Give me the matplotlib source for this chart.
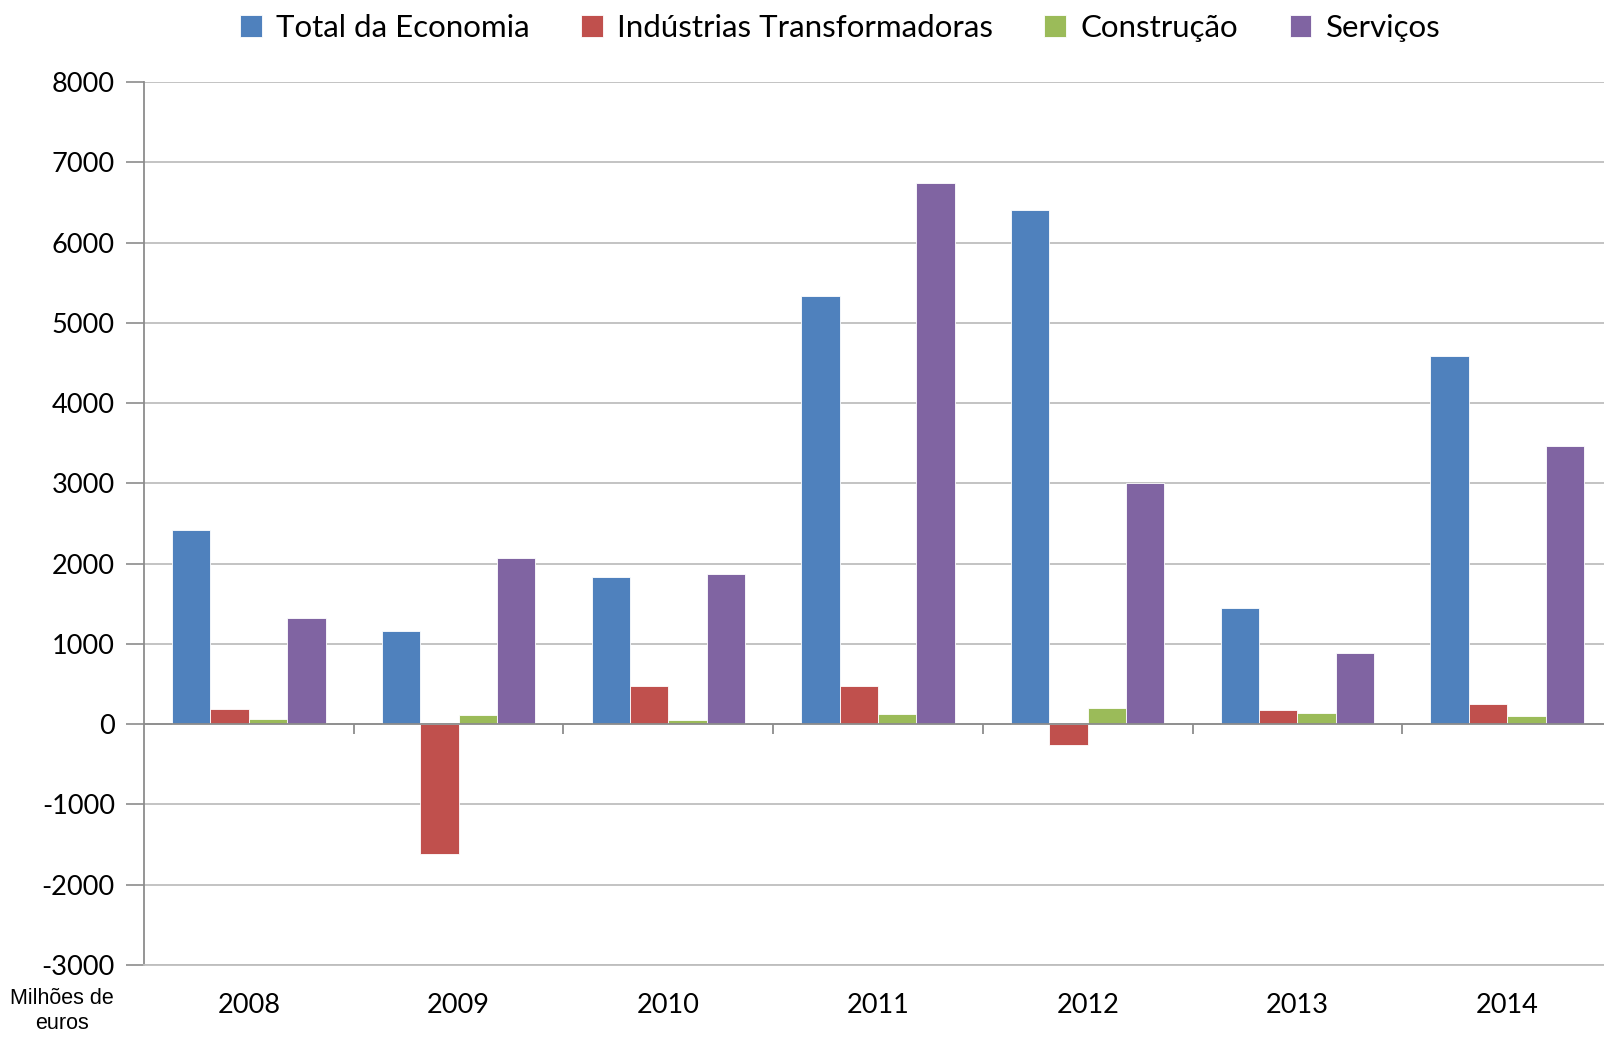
import matplotlib
matplotlib.use("Agg")
import matplotlib.pyplot as plt
import numpy as np

years = ["2008", "2009", "2010", "2011", "2012", "2013", "2014"]
series_names = ["Total da Economia", "Indústrias Transformadoras", "Construção", "Serviços"]
total = [2420, 1160, 1830, 5340, 6410, 1450, 4590]
industria = [190, -1620, 470, 470, -255, 180, 255]
construcao = [65, 115, 50, 125, 205, 140, 100]
servicos = [1325, 2065, 1875, 6740, 3005, 890, 3465]
yticks = list(range(-3000, 8001, 1000))

colors = ["#4F81BD", "#C0504D", "#9BBB59", "#8064A2"]
font = ["Lato", "DejaVu Sans"]

fig = plt.figure(figsize=(16.04, 10.38), dpi=100)
ax = fig.add_axes([144/1604, (1038-965)/1038, 1468/1604, (965-82)/1038])

x = np.arange(len(years))
bw = 0.183
data = [total, industria, construcao, servicos]
for i, (vals, c, name) in enumerate(zip(data, colors, series_names)):
    ax.bar(x + (i - 1.5) * bw, vals, width=bw, color=c, label=name,
           edgecolor="white", linewidth=0.6, zorder=3)

ax.set_xlim(-0.5, len(years) - 0.5)
ax.set_ylim(-3000, 8000)
ax.set_yticks(yticks)
ax.set_yticklabels([str(v) for v in yticks], fontsize=19.5, family=font)
ax.yaxis.grid(True, color="#BEBEBE", linewidth=1.3, zorder=0)
ax.set_axisbelow(True)

ax.set_xticks(x)
ax.set_xticklabels(years, fontsize=19.5, family=font)
ax.tick_params(axis="x", length=0, pad=20)
ax.tick_params(axis="y", length=13, width=1.2, color="#8C8C8C", pad=8)

for s in ["top", "right"]:
    ax.spines[s].set_visible(False)
ax.spines["left"].set_color("#8C8C8C")
ax.spines["left"].set_linewidth(1.3)
ax.spines["bottom"].set_color("#BEBEBE")
ax.spines["bottom"].set_linewidth(1.3)

# zero axis with category boundary ticks
ax.axhline(0, color="#8C8C8C", linewidth=1.3, zorder=4)
ax.vlines(np.arange(0.5, len(years) - 0.5, 1.0), -125, 0, color="#8C8C8C", linewidth=1.3, zorder=4)

fig.text(62/1604, 4/1038, "Milhões de\neuros", ha="center", va="bottom",
         fontsize=15.5, family=["Liberation Sans", "DejaVu Sans"], linespacing=1.25)

leg = fig.legend(loc="center", bbox_to_anchor=(840/1604, 1 - 28/1038), ncol=4, frameon=False,
                 prop={"family": font, "size": 22.5}, handlelength=0.7, handleheight=0.7,
                 handletextpad=0.45, columnspacing=1.65)

fig.savefig("out.png", dpi=100)
